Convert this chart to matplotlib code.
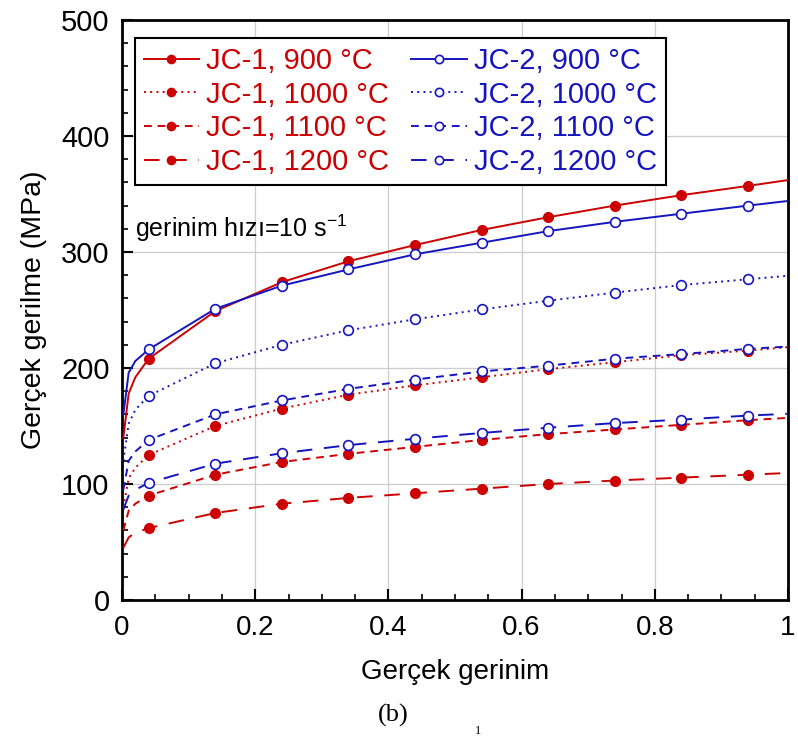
import matplotlib
matplotlib.use("Agg")
import matplotlib.pyplot as plt
from matplotlib.ticker import MultipleLocator, FuncFormatter

# ---- data ----
strain = [0.002, 0.01, 0.02, 0.04, 0.14, 0.24, 0.34, 0.44, 0.54, 0.64, 0.74, 0.84, 0.94, 1.0]

jc1_900  = [140, 178, 192, 208, 249, 274, 292, 306, 319, 330, 340, 349, 357, 362]
jc1_1000 = [80, 105, 114, 125, 150, 165, 177, 185, 192, 199, 205, 211, 215, 218]
jc1_1100 = [60, 77, 83, 90, 108, 119, 126, 132, 138, 143, 147, 151, 155, 157]
jc1_1200 = [45, 54, 58, 62, 75, 83, 88, 92, 96, 100, 103, 105.5, 108, 109.5]

jc2_900  = [160, 196, 206, 216, 251, 271, 285, 298, 308, 318, 326, 333, 340, 344]
jc2_1000 = [120, 152, 164, 176, 204, 220, 232.5, 242, 250.5, 258, 265, 271.5, 276.5, 279.5]
jc2_1100 = [95, 120, 128, 138, 160, 172, 182, 190, 197, 202, 208, 212, 216.5, 218.5]
jc2_1200 = [78, 90, 95, 101, 117.5, 126.5, 133.5, 139, 144, 148.5, 152.5, 155.5, 159, 160.5]

labels_jc1 = ["JC-1, 900 °C", "JC-1, 1000 °C", "JC-1, 1100 °C", "JC-1, 1200 °C"]
labels_jc2 = ["JC-2, 900 °C", "JC-2, 1000 °C", "JC-2, 1100 °C", "JC-2, 1200 °C"]

x_ticks = [0, 0.2, 0.4, 0.6, 0.8, 1.0]
y_ticks = [0, 100, 200, 300, 400, 500]

RED = "#cc0000"
BLUE = "#1515c0"

plt.rcParams['font.family'] = ['Liberation Sans', 'DejaVu Sans']

fig = plt.figure(figsize=(7.98, 7.38), dpi=100)
ax = fig.add_axes([0.1529, 0.187, 0.8346, 0.7859])

styles = ['-', (0, (1, 2.2)), (0, (4, 3)), (0, (8, 6))]
mk = slice(3, 13)

handles1 = []
for ys, ls, lab in zip([jc1_900, jc1_1000, jc1_1100, jc1_1200], styles, labels_jc1):
    h, = ax.plot(strain, ys, color=RED, lw=1.4, ls=ls, marker='o', ms=7,
                 markevery=mk, mfc=RED, mec=RED, label=lab, zorder=3)
    handles1.append(h)
handles2 = []
for ys, ls, lab in zip([jc2_900, jc2_1000, jc2_1100, jc2_1200], styles, labels_jc2):
    h, = ax.plot(strain, ys, color=BLUE, lw=1.4, ls=ls, marker='o', ms=7,
                 markevery=mk, mfc='white', mec=BLUE, mew=1.2, label=lab, zorder=4)
    handles2.append(h)

ax.set_xlim(0, 1)
ax.set_ylim(0, 500)
ax.set_xticks(x_ticks)
ax.set_yticks(y_ticks)
ax.xaxis.set_minor_locator(MultipleLocator(0.05))
ax.yaxis.set_minor_locator(MultipleLocator(20))
ax.xaxis.set_major_formatter(FuncFormatter(lambda v, p: "%g" % v))
ax.tick_params(which='major', direction='in', length=8, width=1.5)
ax.tick_params(axis='y', which='major', labelsize=21, pad=9)
ax.tick_params(axis='x', which='major', labelsize=20, pad=11)
ax.tick_params(which='minor', direction='in', length=4, width=1.2)
ax.grid(True, which='major', color='#cccccc', lw=0.9)
for s in ax.spines.values():
    s.set_linewidth(2.0)
    s.set_color('black')

ax.set_xlabel("Gerçek gerinim", fontsize=20, labelpad=13)
ax.set_ylabel("Gerçek gerilme (MPa)", fontsize=20.5, labelpad=10)

ax.text(0.02, 0.64, "gerinim hızı=10 s$^{\\mathregular{-1}}$", transform=ax.transAxes,
        fontsize=18, ha='left', va='center')

leg = ax.legend(handles1 + handles2, labels_jc1 + labels_jc2, ncol=2,
                loc='upper left', bbox_to_anchor=(0.0195, 0.969), borderaxespad=0,
                fontsize=21, frameon=True, fancybox=False, edgecolor='black',
                framealpha=1, handlelength=1.9, handletextpad=0.25,
                columnspacing=0.75, labelspacing=0.2, borderpad=0.3,
                markerscale=0.85)
leg.get_frame().set_linewidth(1.5)
for t, c in zip(leg.get_texts(), [RED] * 4 + [BLUE] * 4):
    t.set_color(c)
leg.set_zorder(10)

fig.text(393 / 798, 1 - 715 / 738, "(b)", fontsize=19, family=['Liberation Serif'],
         ha='center', va='center')
fig.text(478 / 798, 0.002, "1", fontsize=9, family=['Liberation Serif'],
         ha='center', va='bottom')

fig.savefig("out.png", dpi=100)
